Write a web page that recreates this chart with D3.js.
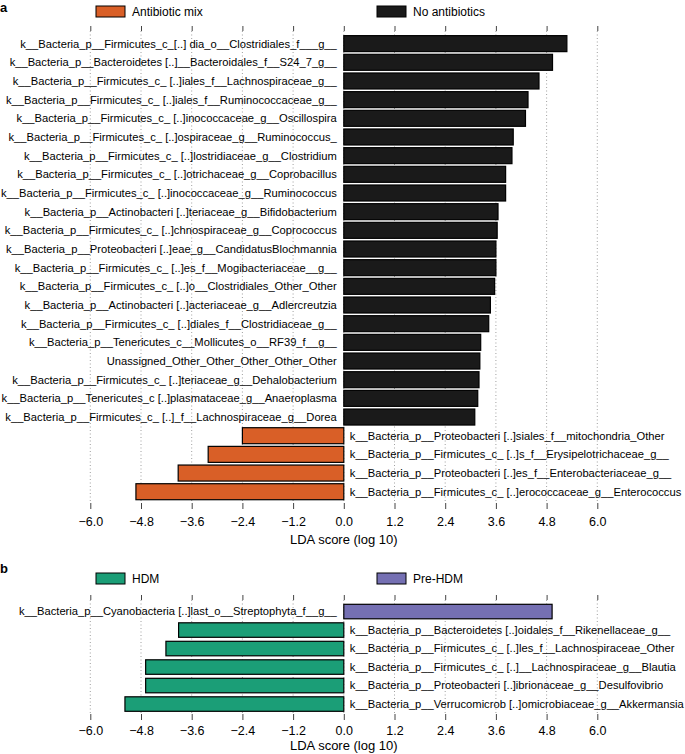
<!DOCTYPE html>
<html>
<head>
<meta charset="utf-8">
<script src="https://cdn.jsdelivr.net/npm/d3@7"></script>
<style>
  body { margin: 0; background: #fff; }
  svg { font-family: "Liberation Sans", Arial, sans-serif; }
</style>
</head>
<body>
<svg role="chart" width="685" height="754"></svg>
<script>
(function(){

  // panel a: antibiotic mix vs no antibiotics
  var labelsA = [
    'k__Bacteria_p__Firmicutes_c_[..] dia_o__Clostridiales_f___g__',
    'k__Bacteria_p__Bacteroidetes [..]__Bacteroidales_f__S24_7_g__',
    'k__Bacteria_p__Firmicutes_c_ [..]iales_f__Lachnospiraceae_g__',
    'k__Bacteria_p__Firmicutes_c_ [..]iales_f__Ruminococcaceae_g__',
    'k__Bacteria_p__Firmicutes_c_ [..]inococcaceae_g__Oscillospira',
    'k__Bacteria_p__Firmicutes_c_ [..]ospiraceae_g__Ruminococcus_',
    'k__Bacteria_p__Firmicutes_c_ [..]lostridiaceae_g__Clostridium',
    'k__Bacteria_p__Firmicutes_c_ [..]otrichaceae_g__Coprobacillus',
    'k__Bacteria_p__Firmicutes_c_ [..]inococcaceae_g__Ruminococcus',
    'k__Bacteria_p__Actinobacteri [..]teriaceae_g__Bifidobacterium',
    'k__Bacteria_p__Firmicutes_c_ [..]chnospiraceae_g__Coprococcus',
    'k__Bacteria_p__Proteobacteri [..]eae_g__CandidatusBlochmannia',
    'k__Bacteria_p__Firmicutes_c_ [..]es_f__Mogibacteriaceae__g__',
    'k__Bacteria_p__Firmicutes_c_ [..]o__Clostridiales_Other_Other',
    'k__Bacteria_p__Actinobacteri [..]acteriaceae_g__Adlercreutzia',
    'k__Bacteria_p__Firmicutes_c_ [..]diales_f__Clostridiaceae_g__',
    'k__Bacteria_p__Tenericutes_c__Mollicutes_o__RF39_f__g__',
    'Unassigned_Other_Other_Other_Other_Other',
    'k__Bacteria_p__Firmicutes_c_ [..]teriaceae_g__Dehalobacterium',
    'k__Bacteria_p__Tenericutes_c [..]plasmataceae_g__Anaeroplasma',
    'k__Bacteria_p__Firmicutes_c_ [..]_f__Lachnospiraceae_g__Dorea',
    'k__Bacteria_p__Proteobacteri [..]siales_f__mitochondria_Other',
    'k__Bacteria_p__Firmicutes_c_ [..]s_f__Erysipelotrichaceae_g__',
    'k__Bacteria_p__Proteobacteri [..]es_f__Enterobacteriaceae_g__',
    'k__Bacteria_p__Firmicutes_c_ [..]erococcaceae_g__Enterococcus'
  ];
  var valuesA = [5.28, 4.94, 4.62, 4.36, 4.30, 4.01, 3.98, 3.83, 3.83, 3.65,
                 3.63, 3.60, 3.60, 3.57, 3.47, 3.43, 3.24, 3.22, 3.20, 3.17,
                 3.10, -2.40, -3.21, -3.92, -4.92];
  var groupsA = ['Antibiotic mix', 'No antibiotics'];

  // panel b: HDM vs pre-HDM
  var labelsB = [
    'k__Bacteria_p__Cyanobacteria [..]last_o__Streptophyta_f__g__',
    'k__Bacteria_p__Bacteroidetes [..]oidales_f__Rikenellaceae_g__',
    'k__Bacteria_p__Firmicutes_c_ [..]les_f__Lachnospiraceae_Other',
    'k__Bacteria_p__Firmicutes_c_ [..]__Lachnospiraceae_g__Blautia',
    'k__Bacteria_p__Proteobacteri [..]ibrionaceae_g__Desulfovibrio',
    'k__Bacteria_p__Verrucomicrob [..]omicrobiaceae_g__Akkermansia'
  ];
  var valuesB = [4.93, -3.91, -4.21, -4.69, -4.69, -5.18];
  var groupsB = ['HDM', 'Pre-HDM'];

  var tickValues = [-6.0, -4.8, -3.6, -2.4, -1.2, 0.0, 1.2, 2.4, 3.6, 4.8, 6.0];
  var tickLabels = ['\u22126.0', '\u22124.8', '\u22123.6', '\u22122.4', '\u22121.2',
                    '0.0', '1.2', '2.4', '3.6', '4.8', '6.0'];

  var svg = d3.select('[role="chart"]');

  var x = d3.scaleLinear()
    .domain([-6, 6])
    .range([90.3, 597.3]);

  function drawPanel(cfg) {
    var g = svg.append('g');
    var rows = cfg.labels.map(function(l, i) {
      return { label: l, value: cfg.values[i], i: i };
    });

    var pad = 1 - cfg.barH / cfg.step;
    var y = d3.scaleBand()
      .domain(d3.range(rows.length))
      .range([cfg.top, cfg.top + cfg.step * rows.length])
      .paddingInner(pad)
      .paddingOuter(pad / 2);

    // panel letter
    g.append('text')
      .attr('x', 0)
      .attr('y', cfg.letterY)
      .style('font-size', '13px')
      .style('font-weight', 'bold')
      .text(cfg.letter);

    // legend
    var legend = g.selectAll('.legend')
      .data(cfg.groups)
      .enter()
      .append('g')
      .attr('transform', function(d, i) {
        return 'translate(' + [96, 377][i] + ',' + cfg.legendY + ')';
      });
    legend.append('rect')
      .attr('width', 29)
      .attr('height', 11)
      .attr('fill', function(d, i) { return cfg.colors[i]; })
      .attr('stroke', '#000')
      .attr('stroke-width', 1);
    legend.append('text')
      .attr('x', 36)
      .attr('y', 5.5)
      .attr('dy', '0.35em')
      .style('font-size', '12px')
      .text(function(d) { return d; });

    // dotted grid lines
    g.selectAll('.grid')
      .data(tickValues)
      .enter()
      .append('line')
      .attr('x1', function(d) { return x(d); })
      .attr('x2', function(d) { return x(d); })
      .attr('y1', cfg.axisTop)
      .attr('y2', cfg.axisBottom)
      .attr('stroke', '#888')
      .attr('stroke-width', 0.8)
      .attr('stroke-dasharray', '1,2.5');

    // top ticks
    var topAxis = g.append('g')
      .attr('transform', 'translate(0,' + cfg.axisTop + ')')
      .call(d3.axisTop(x).tickValues(tickValues).tickFormat('').tickSize(5));
    topAxis.select('.domain').remove();
    topAxis.selectAll('line').attr('stroke', '#444');

    // bottom axis
    var bottomAxis = g.append('g')
      .attr('transform', 'translate(0,' + cfg.axisBottom + ')')
      .call(d3.axisBottom(x)
        .tickValues(tickValues)
        .tickFormat(function(d, i) { return tickLabels[i]; })
        .tickSize(6)
        .tickPadding(cfg.tickPad));
    bottomAxis.select('.domain').remove();
    bottomAxis.selectAll('line').attr('stroke', '#444');
    bottomAxis.selectAll('text')
      .style('font-size', '12.5px')
      .style('font-family', '"Liberation Sans", Arial, sans-serif')
      .attr('fill', '#000');

    g.append('text')
      .attr('x', x(0))
      .attr('y', cfg.titleY)
      .attr('text-anchor', 'middle')
      .style('font-size', '13px')
      .text('LDA score (log 10)');

    // bars
    g.selectAll('.bar')
      .data(rows)
      .enter()
      .append('rect')
      .attr('x', function(d) { return x(Math.min(0, d.value)); })
      .attr('y', function(d) { return y(d.i); })
      .attr('width', function(d) { return Math.abs(x(d.value) - x(0)); })
      .attr('height', y.bandwidth())
      .attr('fill', function(d) { return d.value < 0 ? cfg.colors[0] : cfg.colors[1]; })
      .attr('stroke', '#000')
      .attr('stroke-width', 1.2);

    // bar labels on the opposite side of zero
    g.selectAll('.label')
      .data(rows)
      .enter()
      .append('text')
      .attr('x', function(d) { return d.value < 0 ? x(0) + 6 : x(0) - 7; })
      .attr('y', function(d) { return y(d.i) + y.bandwidth() / 2; })
      .attr('dy', '0.35em')
      .attr('text-anchor', function(d) { return d.value < 0 ? 'start' : 'end'; })
      .style('font-size', '11.2px')
      .text(function(d) { return d.label; });
  }

  drawPanel({
    letter: 'a', letterY: 12,
    labels: labelsA, values: valuesA, groups: groupsA,
    colors: ['#D95F27', '#1a1a1a'],
    legendY: 6,
    top: 34.3, step: 18.67, barH: 16,
    axisTop: 31, axisBottom: 503, tickPad: 8, titleY: 544
  });

  drawPanel({
    letter: 'b', letterY: 573,
    labels: labelsB, values: valuesB, groups: groupsB,
    colors: ['#1B9E77', '#7570B3'],
    legendY: 573,
    top: 602.3, step: 18.5, barH: 14.5,
    axisTop: 600, axisBottom: 714, tickPad: 6, titleY: 750
  });

})();
</script>
</body>
</html>
